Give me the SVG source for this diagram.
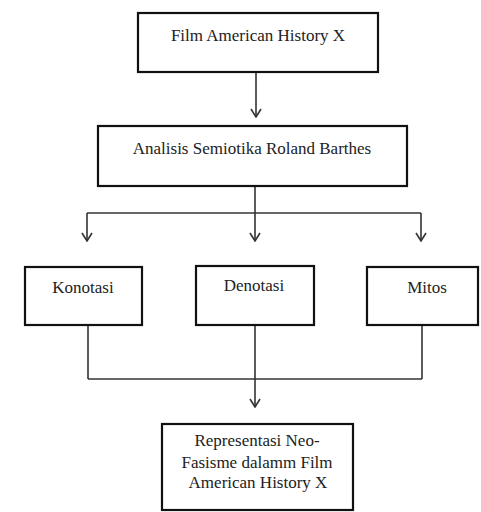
<svg xmlns="http://www.w3.org/2000/svg" width="481" height="512" viewBox="0 0 481 512">
<style>
.box{fill:#fff;stroke:#111;stroke-width:2.2}
.t{font-size:17px;fill:#222;text-anchor:middle}
.c{fill:none;stroke:#333;stroke-width:1.6}
</style>
<defs>
<marker id="ah" viewBox="0 0 10 12" refX="9" refY="6" markerWidth="10" markerHeight="12" markerUnits="userSpaceOnUse" orient="auto">
<path d="M1,1 L9,6 L1,11" fill="none" stroke="#333" stroke-width="1.6"/>
</marker>
</defs>
<rect width="481" height="512" fill="#fff"/>
<g id="connectors">
<line class="c" x1="256" y1="72" x2="256" y2="117" marker-end="url(#ah)"/>
<line class="c" x1="255" y1="186" x2="255" y2="213"/>
<line class="c" x1="87" y1="213" x2="421" y2="213"/>
<line class="c" x1="87" y1="213" x2="87" y2="241" marker-end="url(#ah)"/>
<line class="c" x1="255" y1="213" x2="255" y2="241" marker-end="url(#ah)"/>
<line class="c" x1="421" y1="213" x2="421" y2="241" marker-end="url(#ah)"/>
<line class="c" x1="88" y1="325" x2="88" y2="379"/>
<line class="c" x1="422" y1="325" x2="422" y2="379"/>
<line class="c" x1="88" y1="379" x2="422" y2="379"/>
<line class="c" x1="255" y1="325" x2="255" y2="407" marker-end="url(#ah)"/>
</g>
<g font-family="Liberation Serif, Times New Roman, serif">
<g id="film">
<rect class="box" x="138" y="13" width="240" height="59"/>
<text class="t" x="258" y="41">Film American History X</text>
</g>
<g id="analisis">
<rect class="box" x="98" y="126" width="309" height="60"/>
<text class="t" x="252" y="154">Analisis Semiotika Roland Barthes</text>
</g>
<g id="konotasi">
<rect class="box" x="25" y="267" width="117" height="58"/>
<text class="t" x="83" y="293">Konotasi</text>
</g>
<g id="denotasi">
<rect class="box" x="196" y="266" width="118" height="59"/>
<text class="t" x="254" y="291">Denotasi</text>
</g>
<g id="mitos">
<rect class="box" x="367" y="267" width="111" height="58"/>
<text class="t" x="427" y="293">Mitos</text>
</g>
<g id="representasi">
<rect class="box" x="162" y="424" width="191" height="86"/>
<text class="t" x="257" y="446">Representasi Neo-</text>
<text class="t" x="257" y="468">Fasisme dalamm Film</text>
<text class="t" x="258" y="488">American History X</text>
</g>
</g>
</svg>
